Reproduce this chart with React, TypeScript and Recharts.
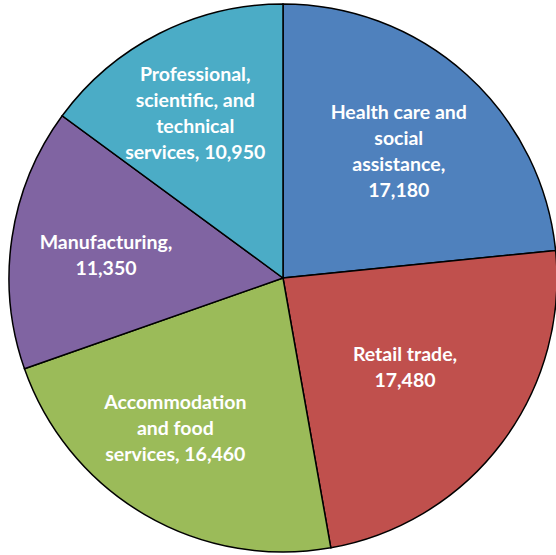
import { PieChart, Pie, Cell } from "recharts";

const SECTORS = [
  "Health care and social assistance",
  "Retail trade",
  "Accommodation and food services",
  "Manufacturing",
  "Professional, scientific, and technical services",
];
const EMPLOYMENT = [17180, 17480, 16460, 11350, 10950];
const COLORS = ["#4F81BD", "#C0504D", "#9BBB59", "#8064A2", "#4BACC6"];

// label placement: fraction of radius, and a small turn (degrees, clockwise)
const LABEL_RADIUS = [0.63, 0.549, 0.67, 0.652, 0.686];
const LABEL_TURN = [0, -1.3, 5.6, -0.7, -1];

const data = SECTORS.map((name, i) => ({ name, value: EMPLOYMENT[i] }));

const RAD = Math.PI / 180;

function wrap(text: string, max: number) {
  const words = text.split(" ");
  const lines: string[] = [];
  let cur = "";
  words.forEach((w) => {
    const next = cur ? cur + " " + w : w;
    if (next.length > max && cur) {
      lines.push(cur);
      cur = w;
    } else cur = next;
  });
  if (cur) lines.push(cur);
  return lines;
}

function renderLabel(props: any) {
  const { cx, cy, midAngle, outerRadius, index } = props;
  const r = outerRadius * LABEL_RADIUS[index];
  const a = (midAngle - LABEL_TURN[index]) * RAD;
  const x = cx + r * Math.cos(a);
  const y = cy - r * Math.sin(a);
  const lines = wrap(`${SECTORS[index]}, ${EMPLOYMENT[index].toLocaleString("en-US")}`, 16);
  const lh = 26;
  const y0 = y - ((lines.length - 1) * lh) / 2;
  return (
    <text
      key={index}
      x={x}
      y={y0}
      fill="#fff"
      textAnchor="middle"
      dominantBaseline="central"
      fontFamily="Lato, 'Open Sans', sans-serif"
      fontWeight={700}
      fontSize={19.5}
    >
      {lines.map((l, i) => (
        <tspan key={i} x={x} y={y0 + i * lh}>
          {l}
        </tspan>
      ))}
    </text>
  );
}

export default function App() {
  return (
    <div style={{ position: "fixed", left: 0, top: 0, width: 556, height: 555, background: "#fff" }}>
      <PieChart width={556} height={555} margin={{ top: 0, right: 0, bottom: 0, left: 0 }}>
        <Pie
          data={data}
          dataKey="value"
          nameKey="name"
          cx={283}
          cy={278}
          outerRadius={274}
          startAngle={90}
          endAngle={-270}
          stroke="#000"
          strokeWidth={1.5}
          label={renderLabel}
          labelLine={false}
          isAnimationActive={false}
        >
          {data.map((_, i) => (
            <Cell key={i} fill={COLORS[i]} />
          ))}
        </Pie>
      </PieChart>
    </div>
  );
}
